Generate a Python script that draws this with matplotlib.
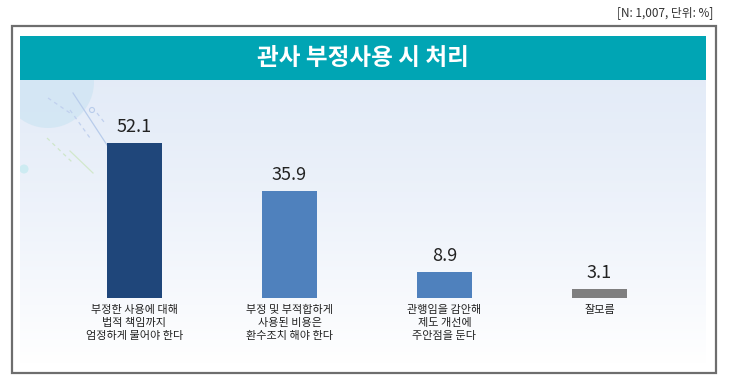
import numpy as np
import matplotlib.pyplot as plt
from matplotlib.patches import Rectangle, Circle

plt.rcParams['font.family'] = ['Noto Sans CJK KR', 'DejaVu Sans']

categories = ["부정한 사용에 대해\n법적 책임까지\n엄정하게 물어야 한다",
              "부정 및 부적합하게\n사용된 비용은\n환수조치 해야 한다",
              "관행임을 감안해\n제도 개선에\n주안점을 둔다",
              "잘모름"]
values = [52.1, 35.9, 8.9, 3.1]
bar_colors = ["#1F467A", "#4F81BD", "#4F81BD", "#7F7F7F"]
title = "관사 부정사용 시 처리"
note = "[N: 1,007, 단위: %]"

W, H = 730, 389
fig = plt.figure(figsize=(W / 100, H / 100), dpi=100)

def fx(px):
    return px / W

def fy(py):
    return 1 - py / H

# outer frame
fig.patches.append(Rectangle((fx(12), fy(373)), fx(716) - fx(12), fy(26) - fy(373),
                             transform=fig.transFigure, facecolor="white",
                             edgecolor="#6E6E6E", lw=1.6, zorder=0))

# gradient panel, data units in pixels
bg = fig.add_axes([fx(20), fy(364), fx(706) - fx(20), fy(80) - fy(364)], zorder=1)
grad = np.linspace(0, 1, 256).reshape(-1, 1)
top = np.array([0.894, 0.925, 0.972])
bot = np.array([1.0, 1.0, 1.0])
img = top + (bot - top) * grad[..., None] ** 1.3
bg.imshow(img.reshape(256, 1, 3), aspect="auto", extent=[20, 706, 364, 80])
bg.add_patch(Circle((48, 82), 46, facecolor="#CFE5F3", edgecolor="none", alpha=0.75))
bg.add_patch(Circle((24, 169), 4.5, facecolor="#CDEBF2", edgecolor="none"))
bg.add_patch(Circle((92, 110), 2.5, facecolor="none", edgecolor="#B8CCEB", lw=0.8))
bg.plot([73, 107], [93, 145], color="#B8CCEB", lw=0.9)
bg.plot([70, 90], [110, 138], color="#C0D0EE", lw=0.9, ls=(0, (3, 3)))
bg.plot([48, 70], [98, 113], color="#C0D0EE", lw=0.9, ls=(0, (3, 3)))
bg.plot([97, 104], [113, 122], color="#C0D0EE", lw=0.9, ls=(0, (3, 3)))
bg.plot([47, 72], [138, 162], color="#CFE6C9", lw=0.9, ls=(0, (3, 3)))
bg.plot([70, 93], [151, 173], color="#D2E8CC", lw=0.9)
bg.set_xlim(20, 706)
bg.set_ylim(364, 80)
bg.axis("off")

# title band
fig.patches.append(Rectangle((fx(20), fy(80)), fx(706) - fx(20), fy(36) - fy(80),
                             transform=fig.transFigure, facecolor="#00A5B4",
                             edgecolor="none", zorder=2))
fig.text(fx(363), fy(58), title, ha="center", va="center", color="white",
         fontsize=17, fontweight="bold", zorder=3)
fig.text(fx(713), fy(13), note, ha="right", va="center", color="#333333",
         fontsize=8.5)

# bars
x = np.arange(len(values))
ppu = 155.0
ax = fig.add_axes([fx(20), fy(298), fx(706) - fx(20), fy(80) - fy(298)], zorder=3)
ax.patch.set_alpha(0)
ax.bar(x, values, width=55 / ppu, color=bar_colors)
ax.set_xlim(-(134.5 - 20) / ppu, 3 + (706 - 599.5) / ppu)
ax.set_ylim(0, 218 / 2.975)
for xi, v in zip(x, values):
    ax.annotate(f"{v}", (xi, v), xytext=(0, 5), textcoords="offset points",
                ha="center", va="bottom", fontsize=13, color="#222222")
ax.axis("off")
for xi, c in zip(x, categories):
    ax.annotate(c, (xi, 0), xytext=(0, -5), textcoords="offset points",
                ha="center", va="top", fontsize=8, color="#222222",
                linespacing=1.35, annotation_clip=False)

fig.savefig("out.png", dpi=100)
